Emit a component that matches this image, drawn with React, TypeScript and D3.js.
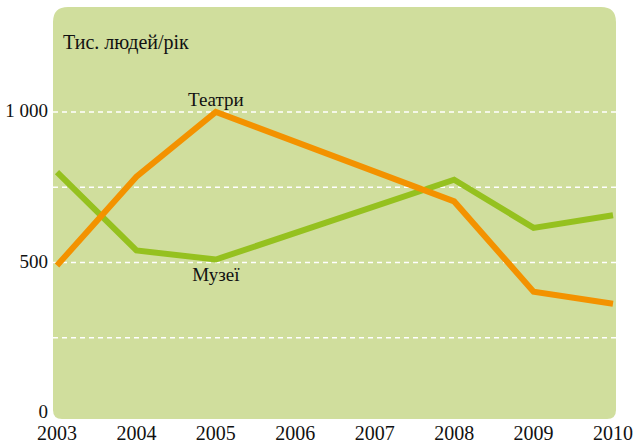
import React, { useRef, useEffect } from 'react';
import * as d3 from 'd3';

// values in thousands of visitors per year
const years = [2003, 2004, 2005, 2006, 2007, 2008, 2009, 2010];
const yTicks = [0, 500, 1000];
const gridTicks = [250, 500, 750, 1000];

const theatreYears = [2003, 2004, 2005, 2008, 2009, 2010];
const theatreValues = [490, 785, 1000, 703, 403, 363];

const museumYears = [2003, 2004, 2005, 2008, 2009, 2010];
const museumValues = [800, 540, 510, 775, 615, 657];

const W = 637;
const H = 445;

const App = () => {
    const svgRef = useRef(null);

    useEffect(() => {
        const svg = d3.select(svgRef.current);
        svg.selectAll('*').remove();

        const font = '"Liberation Serif", "Times New Roman", serif';

        const x = d3.scaleLinear().domain([2003, 2010]).range([57, 613]);
        const y = d3.scaleLinear().domain([0, 1000]).range([413, 112]);

        // panel with rounded corners (bigger at the top)
        const px0 = 53, px1 = 616, py0 = 7, py1 = 419, rt = 15, rb = 9;
        svg.append('path')
            .attr('d', `M${px0 + rt},${py0} H${px1 - rt} Q${px1},${py0} ${px1},${py0 + rt}
                V${py1 - rb} Q${px1},${py1} ${px1 - rb},${py1} H${px0 + rb}
                Q${px0},${py1} ${px0},${py1 - rb} V${py0 + rt} Q${px0},${py0} ${px0 + rt},${py0} Z`)
            .attr('fill', '#d0de9d');

        // dashed grid
        svg.append('g')
            .selectAll('line')
            .data(gridTicks)
            .join('line')
            .attr('x1', px0)
            .attr('x2', px1)
            .attr('y1', d => y(d))
            .attr('y2', d => y(d))
            .attr('stroke', '#ffffff')
            .attr('stroke-width', 1.3)
            .attr('stroke-dasharray', '5,4');

        // y labels
        svg.append('g')
            .selectAll('text')
            .data(yTicks)
            .join('text')
            .attr('x', 48)
            .attr('y', d => y(d) + 5)
            .attr('text-anchor', 'end')
            .attr('font-family', font)
            .attr('font-size', 19)
            .attr('fill', '#111')
            .text(d => d === 1000 ? '1 000' : String(d));

        // x labels
        svg.append('g')
            .selectAll('text')
            .data(years)
            .join('text')
            .attr('x', d => x(d))
            .attr('y', 440)
            .attr('text-anchor', 'middle')
            .attr('font-family', font)
            .attr('font-size', 20)
            .attr('fill', '#111')
            .text(d => d);

        const line = d3.line<[number, number]>()
            .x(d => x(d[0]))
            .y(d => y(d[1]));

        svg.append('path')
            .datum(museumYears.map((yr, i) => [yr, museumValues[i]] as [number, number]))
            .attr('d', line)
            .attr('fill', 'none')
            .attr('stroke', '#95c11f')
            .attr('stroke-width', 6);

        svg.append('path')
            .datum(theatreYears.map((yr, i) => [yr, theatreValues[i]] as [number, number]))
            .attr('d', line)
            .attr('fill', 'none')
            .attr('stroke', '#f39200')
            .attr('stroke-width', 6);

        // title + series labels
        svg.append('text')
            .attr('x', 63)
            .attr('y', 49)
            .attr('font-family', font)
            .attr('font-size', 20)
            .attr('fill', '#111')
            .text('Тис. людей/рік');

        svg.append('text')
            .attr('x', x(2005))
            .attr('y', 106)
            .attr('text-anchor', 'middle')
            .attr('font-family', font)
            .attr('font-size', 19)
            .attr('fill', '#111')
            .text('Театри');

        svg.append('text')
            .attr('x', x(2005))
            .attr('y', 281)
            .attr('text-anchor', 'middle')
            .attr('font-family', font)
            .attr('font-size', 19)
            .attr('fill', '#111')
            .text('Музеї');
    }, []);

    return (
        <svg ref={svgRef} width={W} height={H}
            style={{ position: 'absolute', left: 0, top: 0, background: '#fff' }} />
    );
};

export default App;
